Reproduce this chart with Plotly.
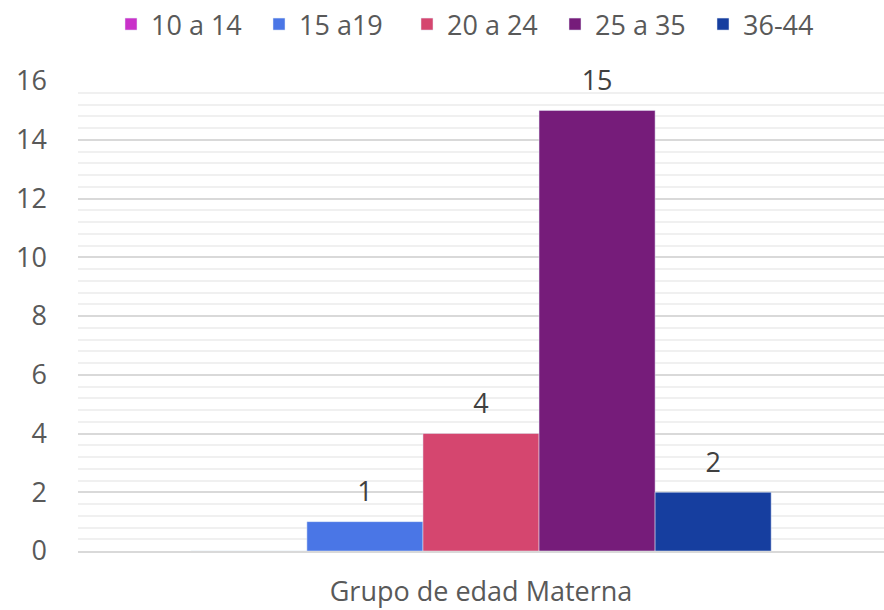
import plotly.graph_objects as go

categories = ["Grupo de edad Materna"]
series_names = ["10 a 14", "15 a19", "20 a 24", "25 a 35", "36-44"]
series_values = [0, 1, 4, 15, 2]
series_labels = ["", "1", "4", "15", "2"]
colors = ["#C932C9", "#4A76E6", "#D5466F", "#761C7A", "#163E9F"]
y_ticks = [0, 2, 4, 6, 8, 10, 12, 14, 16]

FONT = "Open Sans"
FS = 27

fig = go.Figure()
for name, val, lab, col in zip(series_names, series_values, series_labels, colors):
    txt = f"<span style='font-size:{FS}px'>{lab}</span><br> " if lab else ""
    fig.add_trace(go.Bar(
        name=name, x=categories, y=[val], marker_color=col,
        text=[txt], textposition="outside", cliponaxis=False,
        textfont=dict(family=FONT, size=11, color="#404040"),
    ))

fig.update_layout(
    width=884, height=610,
    margin=dict(l=78, r=0, t=81, b=59, autoexpand=False),
    paper_bgcolor="white", plot_bgcolor="white",
    barmode="group", bargap=0.28, bargroupgap=0,
    font=dict(family=FONT, size=FS, color="#595959"),
    legend=dict(orientation="h", x=0.5, xanchor="center", y=1.0, yanchor="top",
                yref="container", font=dict(family=FONT, size=FS, color="#595959"),
                itemwidth=30, entrywidth=103, tracegroupgap=0),
    showlegend=True,
)
fig.update_xaxes(showgrid=False, showline=True, linecolor="#D9D9D9", linewidth=1.5,
                 tickfont=dict(family=FONT, size=FS, color="#595959"), ticks="",
                 ticklabelstandoff=16)
fig.update_yaxes(range=[0, 16], tickvals=y_ticks, showgrid=True, gridcolor="#D9D9D9",
                 gridwidth=1.5, zeroline=False,
                 minor=dict(dtick=0.4, showgrid=True, gridcolor="#F0F0F0", gridwidth=1.5),
                 tickfont=dict(family=FONT, size=FS, color="#595959"), ticks="",
                 ticklabelstandoff=30)

fig.write_html("out.html", config={"displayModeBar": False},
               post_script="document.body.style.margin='0px';")
